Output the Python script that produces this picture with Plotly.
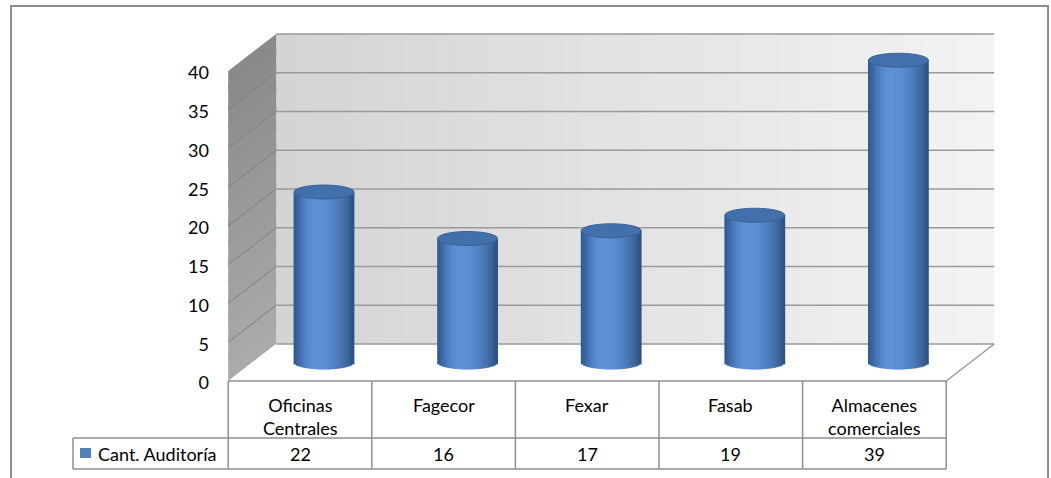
import numpy as np
import plotly.graph_objects as go

# ---------------- data ----------------
categories = ["Oficinas<br>Centrales", "Fagecor", "Fexar", "Fasab", "Almacenes<br>comerciales"]
values = [22, 16, 17, 19, 39]
series_name = "Cant. Auditoría"
y_ticks = [0, 5, 10, 15, 20, 25, 30, 35, 40]

# ---------------- geometry (pixels of the 1051x478 canvas) ----------------
W, H = 1051, 478
X0_PX, STEP_PX = 324.0, 143.6      # mid-depth centre of first category, category spacing
ZERO_PX, UNIT_PX = 362.5, 7.75     # mid-depth pixel of value 0, pixels per unit
DEPTH_X_PX, DEPTH_Y_PX = 48.0, 37.0
BAR_R_PX, ELL_PX = 30.0, 7.0
LABEL_SHIFT_PX = 2.0

def X(px):
    return (px - X0_PX) / STEP_PX

def Y(py):
    return (ZERO_PX - py) / UNIT_PX

h = DEPTH_X_PX / STEP_PX / 2       # half depth (x, data units)
k = DEPTH_Y_PX / UNIT_PX / 2       # half depth (y, data units)
ymax = max(y_ticks)
n = len(values)
xl_f, xr_f = -0.5 - h, n - 0.5 - h   # front plane x extent
xl_b, xr_b = -0.5 + h, n - 0.5 + h   # back plane x extent

FONT = "Lato, 'Open Sans', sans-serif"
GRID = "#9a9a9a"
TABLE = "#8f8f8f"

shapes = []

def path(pts):
    return "M " + " L ".join(f"{a},{b}" for a, b in pts) + " Z"

def lerp(c1, c2, t):
    return "rgb(" + ",".join(str(int(round(a + (b - a) * t))) for a, b in zip(c1, c2)) + ")"

# outer chart frame
shapes.append(dict(type="rect", xref="x", yref="y", x0=X(11), x1=X(1048), y0=Y(6), y1=Y(500),
                   line=dict(color="#8c8c8c", width=2), fillcolor="white", layer="below"))

# back wall (horizontal gradient)
NB = 40
for j in range(NB):
    a = xl_b + (xr_b - xl_b) * j / NB
    b = xl_b + (xr_b - xl_b) * (j + 1.4) / NB
    b = min(b, xr_b)
    shapes.append(dict(type="rect", xref="x", yref="y", x0=a, x1=b, y0=k, y1=ymax + k,
                       fillcolor=lerp((212, 212, 212), (243, 243, 243), j / (NB - 1)),
                       line=dict(width=0), layer="below"))

# side wall (vertical gradient in bands)
NSW = 16
for j in range(NSW):
    t0 = ymax * j / NSW
    t1 = min(ymax, ymax * (j + 1.3) / NSW)
    shapes.append(dict(type="path", xref="x", yref="y",
                       path=path([(xl_f, t0 - k), (xl_b, t0 + k), (xl_b, t1 + k), (xl_f, t1 - k)]),
                       fillcolor=lerp((170, 170, 170), (138, 138, 138), j / (NSW - 1)),
                       line=dict(width=0), layer="below"))

# floor
shapes.append(dict(type="path", xref="x", yref="y",
                   path=path([(xl_f, -k), (xr_f, -k), (xr_b, k), (xl_b, k)]),
                   fillcolor="white", line=dict(width=0), layer="below"))
shapes.append(dict(type="line", xref="x", yref="y", x0=xr_f, y0=-k, x1=xr_b, y1=k,
                   line=dict(color=GRID, width=1.5), layer="below"))

# gridlines on back wall and side wall
for t in y_ticks:
    shapes.append(dict(type="line", xref="x", yref="y", x0=xl_b, x1=xr_b, y0=t + k, y1=t + k,
                       line=dict(color=GRID, width=1.5), layer="below"))
    if 0 < t < ymax:
        shapes.append(dict(type="line", xref="x", yref="y", x0=xl_f, x1=xl_b, y0=t - k, y1=t + k,
                           line=dict(color="#808080", width=1), layer="below"))

# ---------------- cylinders (bars drawn as shaded strips) ----------------
r = BAR_R_PX / STEP_PX
e = ELL_PX / UNIT_PX
NS = 26
dark_l, dark_r, light = (44, 86, 142), (40, 78, 128), (94, 145, 214)
traces = []
idx = np.arange(n)
for s in range(NS):
    u = -1 + (2 * s + 1) / NS
    sag = e * np.sqrt(max(0.0, 1 - u * u))
    peak = -0.25
    if u < peak:
        f = 1 - ((peak - u) / (1 + peak)) ** 2
        col = lerp(dark_l, light, f ** 1.2)
    else:
        f = 1 - ((u - peak) / (1 - peak)) ** 2
        col = lerp(dark_r, light, f ** 0.9)
    traces.append(go.Bar(
        x=idx + u * r, y=[v + sag for v in values], base=[-sag] * n,
        width=2 * r / NS * 1.35, marker=dict(color=col, line=dict(width=0)),
        showlegend=False, hoverinfo="skip"))

for i, v in enumerate(values):
    shapes.append(dict(type="circle", xref="x", yref="y", x0=i - r, x1=i + r, y0=v - e, y1=v + e,
                       fillcolor="#4270aa", line=dict(color="#3a6296", width=1), layer="above"))

# ---------------- data table ----------------
row1_top, row2_top, row2_bot = Y(381), Y(438), Y(469)
legend_left = X(73)
shapes.append(dict(type="line", xref="x", yref="y", x0=xl_f, x1=xr_f, y0=row1_top, y1=row1_top,
                   line=dict(color=TABLE, width=1.5), layer="above"))
shapes.append(dict(type="line", xref="x", yref="y", x0=legend_left, x1=xr_f, y0=row2_top, y1=row2_top,
                   line=dict(color=TABLE, width=1.5), layer="above"))
shapes.append(dict(type="line", xref="x", yref="y", x0=legend_left, x1=xr_f, y0=row2_bot, y1=row2_bot,
                   line=dict(color=TABLE, width=1.5), layer="above"))
shapes.append(dict(type="line", xref="x", yref="y", x0=legend_left, x1=legend_left, y0=row2_top, y1=row2_bot,
                   line=dict(color=TABLE, width=1.5), layer="above"))
for i in range(n + 1):
    xx = i - 0.5 - h
    shapes.append(dict(type="line", xref="x", yref="y", x0=xx, x1=xx, y0=row1_top, y1=row2_bot,
                       line=dict(color=TABLE, width=1.5), layer="above"))

# legend key
shapes.append(dict(type="rect", xref="x", yref="y", x0=X(80), x1=X(91), y0=Y(448), y1=Y(458),
                   fillcolor="#4f81bd", line=dict(width=0), layer="above"))

annotations = []
for i, (c, v) in enumerate(zip(categories, values)):
    annotations.append(dict(x=i - h, y=Y(392), xref="x", yref="y", text=c, showarrow=False,
                            xanchor="center", yanchor="top", font=dict(family=FONT, size=18, color="black")))
    annotations.append(dict(x=i - h, y=(row2_top + row2_bot) / 2, xref="x", yref="y", text=str(v),
                            showarrow=False, xanchor="center", yanchor="middle",
                            font=dict(family=FONT, size=18, color="black")))
annotations.append(dict(x=X(96), y=(row2_top + row2_bot) / 2, xref="x", yref="y", text=series_name,
                        showarrow=False, xanchor="left", yanchor="middle",
                        font=dict(family=FONT, size=18, color="black")))

shift = k + LABEL_SHIFT_PX / UNIT_PX
fig = go.Figure(traces)
fig.update_layout(
    width=W, height=H, margin=dict(l=0, r=0, t=0, b=0),
    paper_bgcolor="white", plot_bgcolor="white", barmode="overlay",
    xaxis=dict(range=[X(0), X(W)], visible=False, fixedrange=True),
    yaxis=dict(range=[Y(H), Y(0)], visible=False, fixedrange=True),
    yaxis2=dict(range=[Y(H) + shift, Y(0) + shift], overlaying="y", anchor="free", position=209 / W,
                side="left", tickvals=y_ticks, ticks="", showgrid=False, zeroline=False,
                showline=False, tickfont=dict(family=FONT, size=18, color="black"), fixedrange=True),
    shapes=shapes, annotations=annotations,
)
# invisible helper trace that activates the value axis
fig.add_trace(go.Scatter(x=[0], y=[0], yaxis="y2", mode="markers", marker=dict(opacity=0),
                         showlegend=False, hoverinfo="skip"))
fig.write_html("out.html")
